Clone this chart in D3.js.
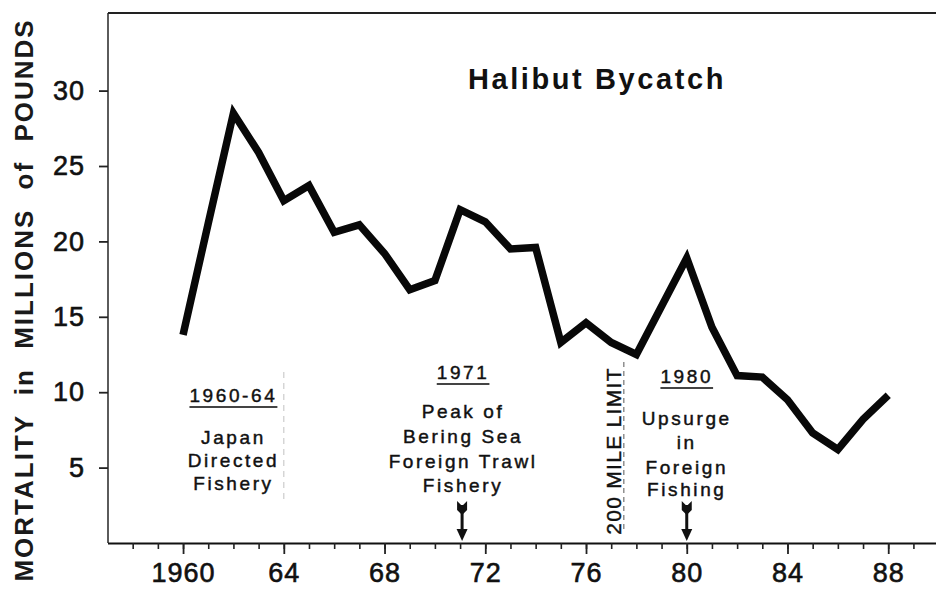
<!DOCTYPE html>
<html><head><meta charset="utf-8">
<script src="https://cdn.jsdelivr.net/npm/d3@7"></script>
<style>
html,body{margin:0;padding:0;background:#fff;}
svg{display:block;font-family:"Liberation Sans",Arial,Helvetica,sans-serif;}
</style></head><body>
<svg id="chart" width="936" height="591"></svg>
<script>
// ---- data ----
const years   = [1960,1961,1962,1963,1964,1965,1966,1967,1968,1969,1970,1971,1972,1973,1974,
                 1975,1976,1977,1978,1979,1980,1981,1982,1983,1984,1985,1986,1987,1988];
const bycatch = [13.8,21.2,28.5,25.9,22.7,23.7,20.6,21.1,19.2,16.8,17.4,22.1,21.3,19.5,19.6,
                 13.3,14.6,13.3,12.5,15.7,18.9,14.3,11.1,11.0,9.5,7.3,6.2,8.2,9.8];
const xMinorTicks = [1958,1959,1960,1961,1962,1963,1964,1965,1966,1967,1968,1969,1970,1971,1972,1973,
                     1974,1975,1976,1977,1978,1979,1980,1981,1982,1983,1984,1985,1986,1987,1988,1989];
const xMajorTicks = [1960,1964,1968,1972,1976,1980,1984,1988];
const xTickLabels = ["1960","64","68","72","76","80","84","88"];
const yTicks      = [5,10,15,20,25,30];
const yTickLabels = ["5","10","15","20","25","30"];
const chartTitle  = "Halibut Bycatch";
const yTitle      = "MORTALITY in MILLIONS of POUNDS";
const noteYears   = [1962, 1971, 1980];
const noteHeads   = ["1960-64", "1971", "1980"];
const noteLines   = [["Japan","Directed","Fishery"],
                     ["Peak of","Bering Sea","Foreign Trawl","Fishery"],
                     ["Upsurge","in","Foreign","Fishing"]];
const arrowYears  = [1971, 1980];
const periodEndYear = 1964;
const limitYear   = 1977.5;
const limitLabel  = "200 MILE LIMIT";

// ---- layout ----
const ink = "#111";
const svg = d3.select("#chart");
svg.append("rect").attr("width",936).attr("height",591).attr("fill","#fff");

const x = d3.scaleLinear().domain([1957, 1990]).range([107.5, 938.6]);
const y = d3.scaleLinear().domain([0, 30]).range([543, 90.6]);
const plotTop = 13, axisX = 108;

// frame: left axis line + top border
svg.append("line").attr("x1",axisX).attr("x2",axisX).attr("y1",plotTop).attr("y2",y(0))
   .attr("stroke","#333").attr("stroke-width",1.6);
svg.append("line").attr("x1",axisX).attr("x2",936).attr("y1",plotTop).attr("y2",plotTop)
   .attr("stroke","#222").attr("stroke-width",2.2);

// x axis minor
const gxMinor = svg.append("g").attr("transform",`translate(0,${y(0)})`)
  .call(d3.axisBottom(x).tickValues(xMinorTicks).tickSize(6).tickSizeOuter(0).tickFormat(""));
gxMinor.select(".domain").attr("stroke","#111").attr("stroke-width",2.2);
gxMinor.selectAll(".tick line").attr("stroke","#222").attr("stroke-width",1.6);

// x axis major
const gxMajor = svg.append("g").attr("transform",`translate(0,${y(0)})`)
  .call(d3.axisBottom(x).tickValues(xMajorTicks).tickSize(11).tickSizeOuter(0).tickPadding(9)
        .tickFormat((d,i)=>xTickLabels[i]));
gxMajor.select(".domain").remove();
gxMajor.selectAll(".tick line").attr("stroke","#222").attr("stroke-width",1.8);
gxMajor.selectAll(".tick text").attr("font-size",27).attr("fill",ink)
  .attr("font-family","'Liberation Sans',Arial,sans-serif")
  .attr("stroke",ink).attr("stroke-width",0.6).attr("letter-spacing",1);

// y axis
const gy = svg.append("g").attr("transform",`translate(${axisX},0)`)
  .call(d3.axisLeft(y).tickValues(yTicks).tickSize(9).tickPadding(14)
        .tickFormat((d,i)=>yTickLabels[i]));
gy.select(".domain").remove();
gy.selectAll(".tick line").attr("stroke","#222").attr("stroke-width",1.8);
gy.selectAll(".tick text").attr("font-size",27).attr("fill",ink)
  .attr("font-family","'Liberation Sans',Arial,sans-serif")
  .attr("stroke",ink).attr("stroke-width",0.6).attr("letter-spacing",1);

// y title
svg.append("text").text(yTitle)
  .attr("transform","translate(33,300) rotate(-90)")
  .attr("text-anchor","middle").attr("font-size",26).attr("font-weight","bold")
  .attr("letter-spacing",2).attr("word-spacing",10).attr("fill","#1a1a1a");

// title
svg.append("text").text(chartTitle).attr("x",597).attr("y",89)
  .attr("text-anchor","middle").attr("font-size",29).attr("font-weight","bold")
  .attr("letter-spacing",2.6).attr("fill",ink);

// faint dashed guide lines
svg.append("line").attr("x1",x(periodEndYear)).attr("x2",x(periodEndYear)).attr("y1",372).attr("y2",500)
  .attr("stroke","#ccc").attr("stroke-width",1.2).attr("stroke-dasharray","6,5");
svg.append("line").attr("x1",x(limitYear)).attr("x2",x(limitYear)).attr("y1",362).attr("y2",532)
  .attr("stroke","#888").attr("stroke-width",1.4).attr("stroke-dasharray","5,4");

// 200 mile limit label
svg.append("text").text(limitLabel)
  .attr("transform",`translate(${x(limitYear)-3},451) rotate(-90)`)
  .attr("text-anchor","middle").attr("font-size",21).attr("letter-spacing",1.3)
  .attr("fill",ink).attr("stroke",ink).attr("stroke-width",0.4);

// annotations
const headBase = [402, 379, 383];
const lineBase = [[444,467,490],[418,443,468,492],[425,449,474,496]];
noteYears.forEach((yr,i)=>{
  const cx = x(yr) + (i===1 ? 3 : 0);
  const h = svg.append("text").text(noteHeads[i]).attr("x",cx).attr("y",headBase[i])
    .attr("text-anchor","middle").attr("font-size",19).attr("letter-spacing",2.6)
    .attr("fill",ink).attr("stroke",ink).attr("stroke-width",0.45);
  const w = h.node().getComputedTextLength();
  svg.append("line").attr("x1",cx-w/2).attr("x2",cx+w/2)
    .attr("y1",headBase[i]+5).attr("y2",headBase[i]+5)
    .attr("stroke","#444").attr("stroke-width",2);
  noteLines[i].forEach((t,j)=>{
    svg.append("text").text(t).attr("x",cx).attr("y",lineBase[i][j])
      .attr("text-anchor","middle").attr("font-size",19).attr("letter-spacing",2.6)
      .attr("fill",ink).attr("stroke",ink).attr("stroke-width",0.45);
  });
});

// arrows
arrowYears.forEach((yr,i)=>{
  const ax = x(yr) + (i===0 ? 2 : 0);
  const top = 501, bot = 541;
  const g = svg.append("g").attr("fill",ink);
  g.append("rect").attr("x",ax-1.5).attr("y",top+4).attr("width",3).attr("height",bot-top-14);
  g.append("path").attr("d",`M${ax-5},${top} L${ax},${top+5} L${ax+5},${top} L${ax+5},${top+9} L${ax},${top+14} L${ax-5},${top+9} Z`);
  g.append("path").attr("d",`M${ax-5.5},${bot-12} L${ax+5.5},${bot-12} L${ax},${bot} Z`);
});

// data line
const pts = years.map((yr,i)=>({year:yr, v:bycatch[i]}));
svg.append("path").datum(pts)
  .attr("d", d3.line().x(d=>x(d.year)).y(d=>y(d.v)))
  .attr("fill","none").attr("stroke","#080808").attr("stroke-width",7.5)
  .attr("stroke-linejoin","miter").attr("stroke-miterlimit",3).attr("stroke-linecap","butt");
</script>
</body></html>
